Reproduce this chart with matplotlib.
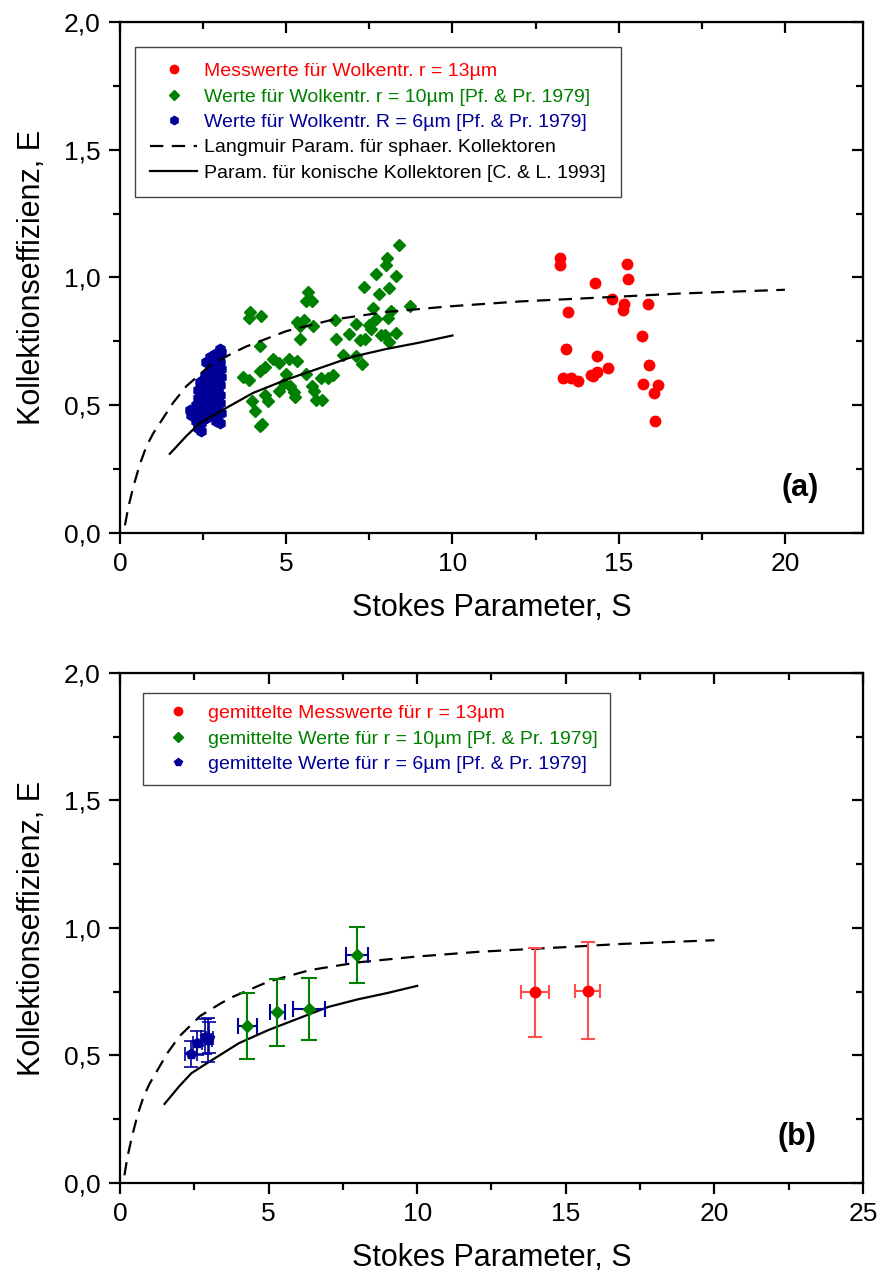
import matplotlib
matplotlib.use("Agg")
import matplotlib.pyplot as plt
from matplotlib.ticker import MultipleLocator, FuncFormatter
import numpy as np

plt.rcParams['font.family'] = ['Liberation Sans', 'DejaVu Sans']

RED = '#ff0000'
GREEN = '#008000'
NAVY = '#000099'

# --- panel (a): single values ---
red_s = [13.25, 13.25, 15.26, 14.29, 15.28, 14.81, 15.15, 15.13, 15.89, 13.49,
         15.70, 13.42, 14.36, 14.69, 15.90, 13.33, 13.58, 13.77, 14.17, 14.34,
         14.22, 15.74, 16.17, 16.06, 16.08]
red_e = [1.075, 1.048, 1.054, 0.979, 0.995, 0.916, 0.898, 0.872, 0.897, 0.864,
         0.770, 0.722, 0.693, 0.647, 0.659, 0.608, 0.607, 0.593, 0.620, 0.630,
         0.613, 0.583, 0.578, 0.548, 0.437]

green_s = [8.39, 8.03, 7.99, 7.70, 8.30, 7.34, 7.78, 8.08, 5.67, 5.60,
           5.79, 3.91, 3.88, 4.23, 8.71, 7.62, 8.15, 8.07, 7.69, 5.32,
           5.55, 5.41, 5.81, 6.48, 7.11, 7.48, 7.54, 6.88, 6.49, 5.41,
           7.22, 7.38, 7.85, 7.97, 8.30, 8.08, 4.20, 4.61, 4.78, 5.09,
           5.32, 6.72, 7.09, 7.29, 4.37, 4.21, 3.71, 3.89, 4.99, 5.59,
           6.06, 6.27, 6.40, 4.94, 5.11, 4.78, 5.23, 5.26, 5.77, 5.84,
           5.89, 6.07, 4.37, 4.45, 3.97, 4.07, 4.26, 4.22]
green_e = [1.128, 1.077, 1.047, 1.013, 1.005, 0.961, 0.937, 0.957, 0.942, 0.907,
           0.909, 0.866, 0.842, 0.850, 0.889, 0.880, 0.869, 0.841, 0.838, 0.827,
           0.835, 0.809, 0.809, 0.834, 0.818, 0.816, 0.799, 0.778, 0.760, 0.761,
           0.757, 0.758, 0.774, 0.776, 0.784, 0.746, 0.733, 0.681, 0.664, 0.680,
           0.672, 0.698, 0.694, 0.663, 0.648, 0.635, 0.611, 0.598, 0.621, 0.621,
           0.605, 0.607, 0.617, 0.587, 0.574, 0.557, 0.552, 0.532, 0.576, 0.554,
           0.522, 0.519, 0.542, 0.515, 0.515, 0.478, 0.426, 0.418]

blue_s = [2.85, 3.00, 3.05,
          2.60, 2.70, 2.75, 2.90, 3.00,
          2.70, 2.80, 2.95, 3.05,
          2.55, 2.65, 2.80, 2.95, 3.05,
          2.40, 2.50, 2.60, 2.75, 2.90, 3.00,
          2.35, 2.45, 2.60, 2.70, 2.85, 2.95,
          2.35, 2.50, 2.65, 2.80, 2.90, 3.00,
          2.30, 2.45, 2.60, 2.75, 2.85, 3.00,
          2.20, 2.35, 2.50, 2.70, 2.85, 3.05,
          2.30, 2.45, 2.60, 2.90, 3.00,
          2.35, 2.45, 2.15, 2.10]
blue_e = [0.70, 0.72, 0.71,
          0.67, 0.69, 0.68, 0.68, 0.67,
          0.65, 0.64, 0.66, 0.64,
          0.62, 0.61, 0.63, 0.62, 0.61,
          0.59, 0.60, 0.58, 0.59, 0.60, 0.58,
          0.56, 0.57, 0.55, 0.57, 0.56, 0.55,
          0.53, 0.52, 0.54, 0.53, 0.52, 0.54,
          0.50, 0.49, 0.51, 0.50, 0.49, 0.51,
          0.47, 0.46, 0.48, 0.47, 0.46, 0.47,
          0.44, 0.43, 0.45, 0.44, 0.43,
          0.41, 0.40, 0.46, 0.48]

# --- parametrisations ---
lang_s = [0.15, 0.25, 0.4, 0.6, 0.8, 1.0, 1.3, 1.6, 2.0, 2.7, 3.4, 3.8, 5.0, 6.4,
          8.0, 9.9, 12.0, 15.0, 16.8, 20.0]
lang_e = [0.03, 0.10, 0.18, 0.27, 0.34, 0.39, 0.45, 0.51, 0.575, 0.655, 0.705, 0.73,
          0.79, 0.835, 0.865, 0.887, 0.906, 0.925, 0.937, 0.952]
cl_s = [1.5, 2.0, 2.4, 3.0, 4.0, 5.0, 6.0, 7.0, 8.0, 9.0, 10.0]
cl_e = [0.31, 0.38, 0.43, 0.475, 0.548, 0.60, 0.645, 0.69, 0.72, 0.745, 0.773]

# --- panel (b): averaged values ---
avg_red_s = [13.97, 15.73]
avg_red_e = [0.748, 0.754]
avg_red_xerr = [0.48, 0.43]
avg_red_yerr = [0.175, 0.19]

avg_green_s = [4.29, 5.30, 6.37, 7.97]
avg_green_e = [0.616, 0.669, 0.682, 0.893]
avg_green_xerr = [0.33, 0.25, 0.54, 0.38]
avg_green_yerr = [0.13, 0.13, 0.12, 0.11]

avg_blue_s = [2.39, 2.60, 2.86, 3.00, 2.95]
avg_blue_e = [0.505, 0.548, 0.574, 0.570, 0.560]
avg_blue_xerr = [0.20, 0.15, 0.15, 0.12, 0.15]
avg_blue_yerr = [0.05, 0.047, 0.07, 0.06, 0.085]

DASH = (0, (6, 3.8))


def comma(v, pos):
    return ('%.1f' % v).replace('.', ',')


def style_axes(ax, xmax, xmajor):
    ax.set_xlim(0, xmax)
    ax.set_ylim(0, 2.0)
    ax.xaxis.set_major_locator(MultipleLocator(xmajor))
    ax.xaxis.set_minor_locator(MultipleLocator(xmajor / 2))
    ax.yaxis.set_major_locator(MultipleLocator(0.5))
    ax.yaxis.set_minor_locator(MultipleLocator(0.25))
    ax.yaxis.set_major_formatter(FuncFormatter(comma))
    for sp in ax.spines.values():
        sp.set_linewidth(1.6)
    ax.tick_params(which='major', direction='out', length=8, width=1.6, labelsize=19, pad=6)
    ax.tick_params(which='minor', direction='out', length=5, width=1.6)
    # inward ticks on top and right
    top = ax.secondary_xaxis('top')
    top.xaxis.set_major_locator(MultipleLocator(xmajor))
    top.xaxis.set_minor_locator(MultipleLocator(xmajor / 2))
    top.tick_params(which='major', direction='in', length=8, width=1.6, labeltop=False)
    top.tick_params(which='minor', direction='in', length=5, width=1.6)
    right = ax.secondary_yaxis('right')
    right.yaxis.set_major_locator(MultipleLocator(0.5))
    right.yaxis.set_minor_locator(MultipleLocator(0.25))
    right.tick_params(which='major', direction='in', length=8, width=1.6, labelright=False)
    right.tick_params(which='minor', direction='in', length=5, width=1.6)
    ax.set_xlabel('Stokes Parameter, S', fontsize=22, labelpad=12)
    ax.set_ylabel('Kollektionseffizienz, E', fontsize=22, labelpad=12)


def make_legend(ax, anchor, colors, pad):
    leg = ax.legend(loc='upper left', bbox_to_anchor=anchor, borderaxespad=0,
                    fontsize=14, frameon=True, fancybox=False, edgecolor='#444444',
                    framealpha=1, handlelength=2.4, labelspacing=0.4, borderpad=pad,
                    handletextpad=0.35, markerscale=0.8)
    leg.get_frame().set_linewidth(1.0)
    for t, c in zip(leg.get_texts(), colors):
        t.set_color(c)
    return leg


fig = plt.figure(figsize=(8.82, 12.85), dpi=100)
ax1 = fig.add_axes([0.136, 0.5852, 0.8425, 0.3977])
ax2 = fig.add_axes([0.136, 0.0794, 0.8425, 0.3969])

# panel (a)
ax1.plot(red_s, red_e, 'o', color=RED, ms=7.5, mec=RED, ls='none',
         label='Messwerte für Wolkentr. r = 13µm')
ax1.plot(green_s, green_e, 'D', color=GREEN, ms=6.3, mec=GREEN, ls='none',
         label='Werte für Wolkentr. r = 10µm [Pf. & Pr. 1979]')
ax1.plot(blue_s, blue_e, 'h', color=NAVY, ms=7.5, mec=NAVY, ls='none',
         label='Werte für Wolkentr. R = 6µm [Pf. & Pr. 1979]')
ax1.plot(lang_s, lang_e, color='black', lw=1.6, ls=DASH,
         label='Langmuir Param. für sphaer. Kollektoren')
ax1.plot(cl_s, cl_e, color='black', lw=1.6,
         label='Param. für konische Kollektoren [C. & L. 1993]')
style_axes(ax1, 22.35, 5)
make_legend(ax1, (0.02, 0.951), [RED, GREEN, NAVY, 'black', 'black'], 0.8)
ax1.text(0.915, 0.088, '(a)', transform=ax1.transAxes, fontsize=22,
         fontweight='bold', ha='center', va='center')

# panel (b)
ax2.plot(lang_s, lang_e, color='black', lw=1.6, ls=DASH)
ax2.plot(cl_s, cl_e, color='black', lw=1.6)
ax2.errorbar(avg_red_s, avg_red_e, xerr=avg_red_xerr, yerr=avg_red_yerr, fmt='none',
             ecolor='#ff4d4d', elinewidth=1.5, capsize=5, capthick=1.5)
ax2.errorbar(avg_green_s, avg_green_e, yerr=avg_green_yerr, fmt='none',
             ecolor=GREEN, elinewidth=1.5, capsize=5.5, capthick=1.5)
ax2.errorbar(avg_green_s, avg_green_e, xerr=avg_green_xerr, fmt='none',
             ecolor=NAVY, elinewidth=1.5, capsize=5.5, capthick=1.5)
ax2.errorbar(avg_blue_s, avg_blue_e, xerr=avg_blue_xerr, yerr=avg_blue_yerr, fmt='none',
             ecolor=NAVY, elinewidth=1.2, capsize=5, capthick=1.2)
ax2.plot(avg_red_s, avg_red_e, 'o', color=RED, ms=7.5, ls='none',
         label='gemittelte Messwerte für r = 13µm')
ax2.plot(avg_green_s, avg_green_e, 'D', color=GREEN, ms=6, ls='none',
         label='gemittelte Werte für r = 10µm [Pf. & Pr. 1979]')
ax2.plot(avg_blue_s, avg_blue_e, 'p', color=NAVY, ms=7.5, ls='none',
         label='gemittelte Werte für r = 6µm [Pf. & Pr. 1979]')
style_axes(ax2, 25, 5)
make_legend(ax2, (0.031, 0.961), [RED, GREEN, NAVY], 0.6)
ax2.text(0.911, 0.09, '(b)', transform=ax2.transAxes, fontsize=22,
         fontweight='bold', ha='center', va='center')

fig.savefig('out.png', dpi=100)
